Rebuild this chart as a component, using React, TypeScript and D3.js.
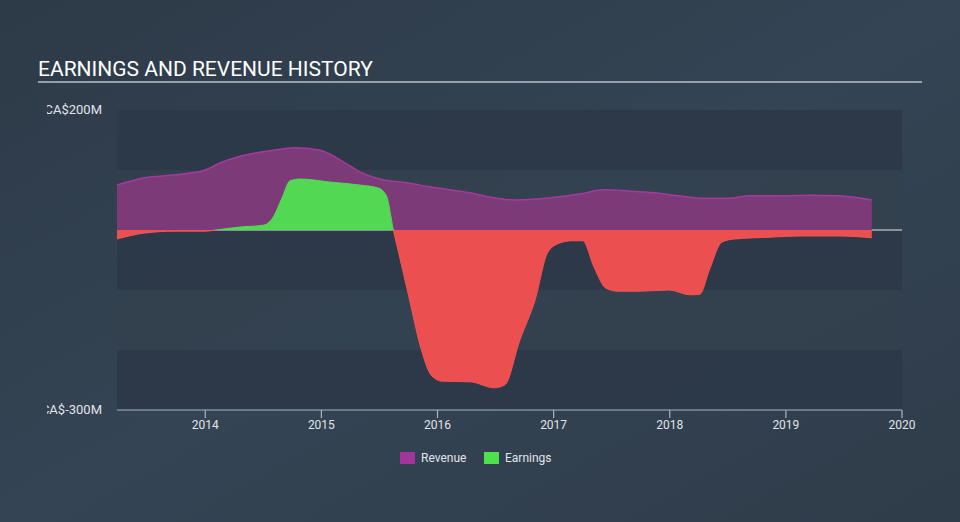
import React from "react";
import * as d3 from "d3";

const revenueDates = [2013.24, 2013.48, 2013.74, 2014.0, 2014.13, 2014.3, 2014.56, 2014.77, 2014.99, 2015.16, 2015.33, 2015.5, 2015.76, 2015.93, 2016.28, 2016.45, 2016.67, 2016.88, 2017.22, 2017.44, 2017.65, 2017.87, 2018.08, 2018.3, 2018.51, 2018.69, 2018.94, 2019.2, 2019.46, 2019.74];
const revenueValues = [75, 87, 92, 100, 112, 123, 132, 137, 133, 117, 97, 85, 78, 72, 62, 55, 50, 52, 60, 67, 65, 62, 57, 53, 53, 57, 57, 58, 57, 50];

const earningsDates = [2013.24, 2013.48, 2013.74, 2014.0, 2014.09, 2014.3, 2014.5, 2014.58, 2014.66, 2014.73, 2014.82, 2015.07, 2015.33, 2015.49, 2015.56, 2015.62, 2015.68, 2015.76, 2015.85, 2015.95, 2016.04, 2016.28, 2016.49, 2016.58, 2016.71, 2016.84, 2016.95, 2017.05, 2017.16, 2017.25, 2017.35, 2017.45, 2017.55, 2017.74, 2018.0, 2018.17, 2018.26, 2018.34, 2018.45, 2018.56, 2018.86, 2019.12, 2019.46, 2019.74];
const earningsValues = [-15, -5, -2, -2, 0, 5, 8, 20, 53, 82, 85, 80, 75, 70, 57, 0, -50, -117, -192, -243, -252, -253, -263, -258, -183, -117, -37, -22, -18, -18, -63, -97, -102, -102, -100, -108, -107, -67, -20, -15, -12, -10, -10, -13];

const xTicks = [2014, 2015, 2016, 2017, 2018, 2019, 2020];
const yTickValues = [200, -300];
const yTickLabels = ["CA$200M", "CA$-300M"];
const legendLabels = ["Revenue", "Earnings"];

const W = 960, H = 522;
const plotL = 117, plotR = 902, plotT = 110, plotB = 410;

export default function App() {
  const x = d3.scaleLinear().domain([2013.24, 2020]).range([plotL, plotR]);
  const y = d3.scaleLinear().domain([-300, 200]).range([plotB, plotT]);
  const y0 = y(0);

  const rev = revenueDates.map((d, i) => [d, revenueValues[i]] as [number, number]);
  const earn = earningsDates.map((d, i) => [d, earningsValues[i]] as [number, number]);

  const revArea = d3.area<[number, number]>().x(d => x(d[0])).y0(y0).y1(d => y(d[1])).curve(d3.curveMonotoneX);
  const revLine = d3.line<[number, number]>().x(d => x(d[0])).y(d => y(d[1])).curve(d3.curveMonotoneX);
  const earnArea = d3.area<[number, number]>().x(d => x(d[0])).y0(y0).y1(d => y(d[1])).curve(d3.curveMonotoneX);
  const earnLine = d3.line<[number, number]>().x(d => x(d[0])).y(d => y(d[1])).curve(d3.curveMonotoneX);

  const bands = d3.range(-300, 200, 100);
  const font = "Roboto, 'Open Sans', sans-serif";

  return (
    <svg width={W} height={H} style={{ position: "absolute", left: 0, top: 0, display: "block" }}>
      <defs>
        <linearGradient id="bg" x1="0" y1="0" x2="1" y2="1">
          <stop offset="0" stopColor="#2d3a48" />
          <stop offset="0.5" stopColor="#344454" />
          <stop offset="1" stopColor="#2f3c4a" />
        </linearGradient>
        <clipPath id="pos"><rect x={0} y={0} width={W} height={y0} /></clipPath>
        <clipPath id="neg"><rect x={0} y={y0} width={W} height={H - y0} /></clipPath>
        <clipPath id="ylab"><rect x={47} y={0} width={100} height={H} /></clipPath>
      </defs>
      <rect x={0} y={0} width={W} height={H} fill="url(#bg)" />
      {bands.map((b, i) => (
        <rect key={b} x={plotL} y={y(b + 100)} width={plotR - plotL} height={y(b) - y(b + 100)}
          fill={i % 2 === 0 ? "#2c3948" : "#33414f"} opacity={i % 2 === 0 ? 0.9 : 0.6} />
      ))}
      <text x={38} y={76} fill="#ffffff" fontSize={21} fontFamily={font}>EARNINGS AND REVENUE HISTORY</text>
      <line x1={38} x2={922} y1={82} y2={82} stroke="#b8c0c8" strokeWidth={1.5} />

      <line x1={plotL} x2={plotR} y1={y0} y2={y0} stroke="#e8e8e8" strokeWidth={1.2} />

      <path d={revArea(rev) || ""} fill="#7d3a78" />
      <path d={revLine(rev) || ""} fill="none" stroke="#a33b9c" strokeWidth={1.5} />

      <path d={earnArea(earn) || ""} fill="#52d852" clipPath="url(#pos)" />
      <path d={earnArea(earn) || ""} fill="#eb4f4f" clipPath="url(#neg)" />
      <path d={earnLine(earn) || ""} fill="none" stroke="#52d852" strokeWidth={1} clipPath="url(#pos)" />
      <path d={earnLine(earn) || ""} fill="none" stroke="#f25555" strokeWidth={1} clipPath="url(#neg)" />

      <g clipPath="url(#ylab)">
        {yTickValues.map((v, i) => (
          <text key={v} x={102} y={y(v) + 4} textAnchor="end" fill="#e0e4e8" fontSize={13} fontFamily={font}>{yTickLabels[i]}</text>
        ))}
      </g>

      <line x1={plotL} x2={plotR} y1={plotB} y2={plotB} stroke="#aab4c0" strokeWidth={1.2} />
      {xTicks.map(t => (
        <g key={t}>
          <line x1={x(t)} x2={x(t)} y1={plotB} y2={plotB + 8} stroke="#aab4c0" strokeWidth={1.2} />
          <text x={x(t)} y={plotB + 19} textAnchor="middle" fill="#e0e4e8" fontSize={12} fontFamily={font}>{t}</text>
        </g>
      ))}

      <rect x={400} y={452} width={15} height={12} fill="#a0369a" />
      <text x={421} y={462} fill="#e0e4e8" fontSize={12} fontFamily={font}>{legendLabels[0]}</text>
      <rect x={484} y={452} width={15} height={12} fill="#4fe04f" />
      <text x={505} y={462} fill="#e0e4e8" fontSize={12} fontFamily={font}>{legendLabels[1]}</text>
    </svg>
  );
}
